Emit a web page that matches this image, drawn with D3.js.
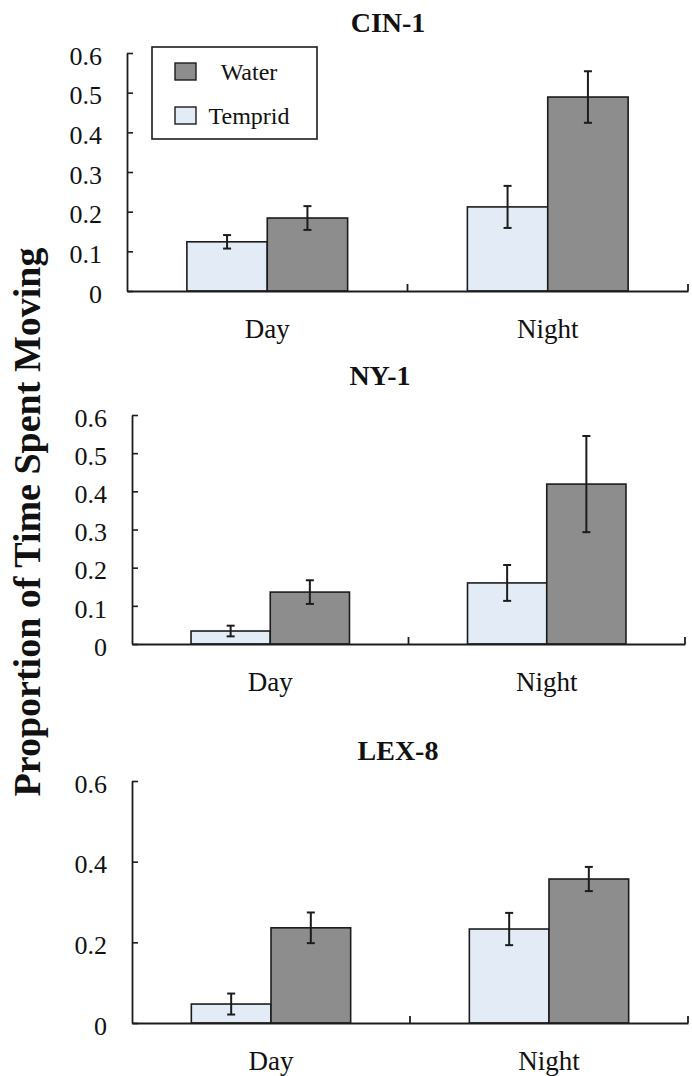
<!DOCTYPE html>
<html>
<head>
<meta charset="utf-8">
<script src="https://cdn.jsdelivr.net/npm/d3@7"></script>
<style>
    body { margin: 0; background: #fff; }
    .bar { stroke: #1c1c1c; stroke-width: 1.6; }
    .err { stroke: #1c1c1c; stroke-width: 2; }
    .axis-line { stroke: #1c1c1c; stroke-width: 1.8; fill: none; }
</style>
</head>
<body>
<div id="chart"></div>
<script>
// data
const categories = ["Day", "Night"];
const series = ["Temprid", "Water"];
const panelNames = ["CIN-1", "NY-1", "LEX-8"];

const tempridMean = [[0.124, 0.212], [0.034, 0.160], [0.047, 0.233]];
const tempridErr  = [[0.017, 0.053], [0.014, 0.047], [0.026, 0.040]];
const waterMean   = [[0.184, 0.489], [0.136, 0.419], [0.236, 0.357]];
const waterErr    = [[0.030, 0.065], [0.031, 0.126], [0.038, 0.030]];

const yTicks = [
    [0, 0.1, 0.2, 0.3, 0.4, 0.5, 0.6],
    [0, 0.1, 0.2, 0.3, 0.4, 0.5, 0.6],
    [0, 0.2, 0.4, 0.6]
];
const yTitle = "Proportion of Time Spent Moving";
const legendOrder = ["Water", "Temprid"];

const colors = { "Temprid": "#e3ecf6", "Water": "#8d8d8d" };
const serif = "'Liberation Serif', serif";

// layout of each panel (pixels)
const layout = [
    { left: 127, right: 688, top: 53,  bottom: 291,  titleX: 388, titleY: 32 },
    { left: 132, right: 685, top: 415, bottom: 644,  titleX: 380, titleY: 385 },
    { left: 132, right: 688, top: 781, bottom: 1023, titleX: 398, titleY: 760 }
];

const width = 692, height = 1076;
const svg = d3.select("#chart").append("svg")
    .attr("width", width).attr("height", height)
    .style("font-family", serif);

function drawPanel(p) {
    let L = layout[p];
    let g = svg.append("g").attr("class", "panel");

    let x0 = d3.scaleBand().domain(categories).range([L.left, L.right]).paddingInner(0).paddingOuter(0);
    let x1 = d3.scaleBand().domain(series).range([0, x0.bandwidth()]).paddingInner(0).paddingOuter(0.745);
    let y = d3.scaleLinear().domain([0, 0.6]).range([L.bottom, L.top]);

    let rows = [];
    categories.forEach((c, i) => {
        rows.push({ cat: c, ser: "Temprid", mean: tempridMean[p][i], err: tempridErr[p][i] });
        rows.push({ cat: c, ser: "Water", mean: waterMean[p][i], err: waterErr[p][i] });
    });

    // bars
    g.selectAll("rect.bar").data(rows).enter().append("rect")
        .attr("class", "bar")
        .attr("x", d => x0(d.cat) + x1(d.ser))
        .attr("width", x1.bandwidth())
        .attr("y", d => y(d.mean))
        .attr("height", d => y(0) - y(d.mean))
        .attr("fill", d => colors[d.ser]);

    // error bars
    let cap = 4;
    let eb = g.selectAll("g.eb").data(rows).enter().append("g").attr("class", "eb");
    let cx = d => x0(d.cat) + x1(d.ser) + x1.bandwidth() / 2;
    eb.append("line").attr("class", "err")
        .attr("x1", cx).attr("x2", cx)
        .attr("y1", d => y(d.mean + d.err)).attr("y2", d => y(d.mean - d.err));
    eb.append("line").attr("class", "err")
        .attr("x1", d => cx(d) - cap).attr("x2", d => cx(d) + cap)
        .attr("y1", d => y(d.mean + d.err)).attr("y2", d => y(d.mean + d.err));
    eb.append("line").attr("class", "err")
        .attr("x1", d => cx(d) - cap).attr("x2", d => cx(d) + cap)
        .attr("y1", d => y(d.mean - d.err)).attr("y2", d => y(d.mean - d.err));

    // y axis, ticks point inward; labels drawn separately
    let yAxis = d3.axisLeft(y)
        .tickValues(yTicks[p])
        .tickFormat("")
        .tickSizeInner(-6).tickSizeOuter(0);
    let ya = g.append("g").attr("transform", `translate(${L.left},0)`).call(yAxis);
    ya.select(".domain").attr("class", "axis-line");
    ya.selectAll(".tick line").attr("stroke", "#1c1c1c").attr("stroke-width", 1.6);
    ya.selectAll(".tick text").remove();
    g.selectAll("text.ylab").data(yTicks[p]).enter().append("text")
        .attr("class", "ylab")
        .attr("x", L.left - 25)
        .attr("y", d => y(d))
        .attr("dy", "0.45em")
        .attr("text-anchor", "end")
        .attr("font-size", 26).attr("fill", "#111")
        .style("font-family", serif)
        .text(d => d === 0 ? "0" : d3.format(".1f")(d));

    // x axis
    let xAxis = d3.axisBottom(x0).tickSize(0).tickFormat("").tickSizeOuter(0);
    let xa = g.append("g").attr("transform", `translate(0,${L.bottom})`).call(xAxis);
    xa.select(".domain").attr("class", "axis-line");
    xa.selectAll(".tick text").remove();
    g.selectAll("text.xlab").data(categories).enter().append("text")
        .attr("class", "xlab")
        .attr("x", d => x0(d) + x0.bandwidth() / 2)
        .attr("y", L.bottom + 47)
        .attr("text-anchor", "middle")
        .attr("font-size", 27).attr("fill", "#111")
        .style("font-family", serif)
        .text(d => d);
    // small upward ticks at the category boundary and the end
    let bounds = [x0("Night"), x0.range()[1]];
    g.selectAll("line.xtick").data(bounds).enter().append("line")
        .attr("class", "axis-line")
        .attr("x1", d => d).attr("x2", d => d)
        .attr("y1", L.bottom).attr("y2", L.bottom - 7);

    // panel title
    g.append("text")
        .attr("x", L.titleX).attr("y", L.titleY)
        .attr("text-anchor", "middle")
        .attr("font-size", 28).attr("font-weight", "bold").attr("fill", "#111")
        .style("font-family", serif)
        .text(panelNames[p]);
}

for (let p = 0; p < panelNames.length; p++) { drawPanel(p); }

// legend (first panel)
let lg = svg.append("g").attr("class", "legend");
lg.append("rect").attr("x", 152).attr("y", 47).attr("width", 165).attr("height", 92)
    .attr("fill", "#fff").attr("stroke", "#1c1c1c").attr("stroke-width", 1.6);
let items = lg.selectAll("g.item").data(legendOrder).enter().append("g")
    .attr("class", "item")
    .attr("transform", (d, i) => `translate(0,${i * 44})`);
items.append("rect").attr("x", 175).attr("y", 63).attr("width", 21).attr("height", 17)
    .attr("fill", d => colors[d]).attr("stroke", "#1c1c1c").attr("stroke-width", 1.4);
items.append("text").attr("x", 249).attr("y", 80).attr("text-anchor", "middle")
    .attr("font-size", 24).attr("fill", "#111")
    .style("font-family", serif)
    .text(d => d);

// shared y title
svg.append("text")
    .attr("transform", "translate(40,522) rotate(-90)")
    .attr("text-anchor", "middle")
    .attr("font-size", 38).attr("font-weight", "bold").attr("fill", "#111")
    .style("font-family", serif)
    .text(yTitle);
</script>
</body>
</html>
